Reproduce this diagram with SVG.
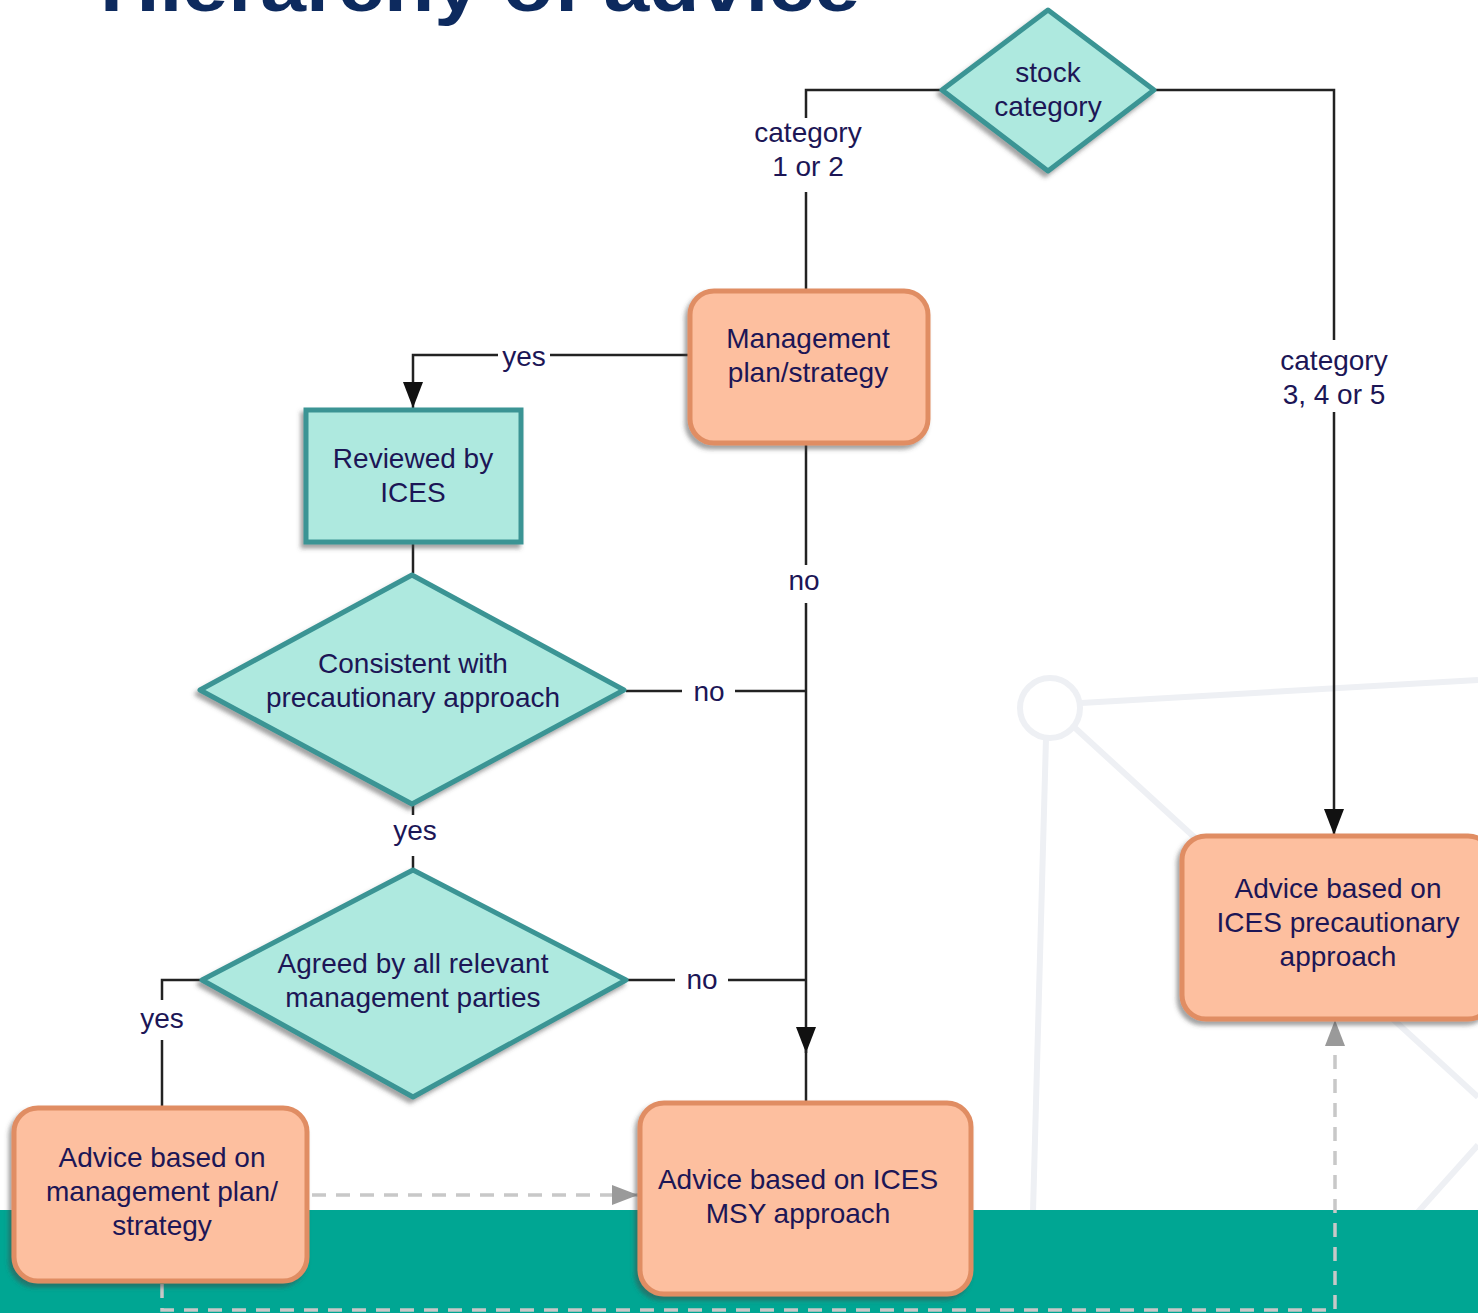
<svg xmlns="http://www.w3.org/2000/svg" width="1478" height="1313" viewBox="0 0 1478 1313">
<style>
text{font-family:"Liberation Sans",Arial,sans-serif;font-size:28px;fill:#1c1656;text-anchor:middle}
.title{font-size:72px;font-weight:bold;fill:#0d2a5e;text-anchor:start}
.bg{fill:none;stroke:#eef0f4;stroke-width:6}
.dec{fill:#aee9df;stroke:#3a9494;stroke-width:5;stroke-linejoin:round}
.box{fill:#fdbf9f;stroke:#e08d63;stroke-width:5}
.conn{fill:none;stroke:#222;stroke-width:2.5}
.dash{fill:none;stroke:#c8c8c8;stroke-width:3.5;stroke-dasharray:14 10}
</style>
<defs>
<filter id="sh" x="-10%" y="-10%" width="120%" height="125%">
<feDropShadow dx="-3" dy="4" stdDeviation="2" flood-color="#444" flood-opacity="0.5"/>
</filter>
<marker id="arr" markerUnits="userSpaceOnUse" markerWidth="26" markerHeight="20" viewBox="0 0 26 20" refX="26" refY="10" orient="auto">
<path d="M0,0 L26,10 L0,20 z" fill="#111"/>
</marker>
<marker id="garr" markerUnits="userSpaceOnUse" markerWidth="26" markerHeight="20" viewBox="0 0 26 20" refX="26" refY="10" orient="auto">
<path d="M0,0 L26,10 L0,20 z" fill="#9a9a9a"/>
</marker>
</defs>
<rect x="0" y="0" width="1478" height="1313" fill="#fff"/>
<g id="background">
<circle class="bg" cx="1050" cy="708" r="30"/>
<line class="bg" x1="1081" y1="703" x2="1478" y2="680"/>
<line class="bg" x1="1046" y1="738" x2="1033" y2="1212"/>
<line class="bg" x1="1074" y1="727" x2="1478" y2="1097"/>
<line class="bg" x1="1478" y1="1145" x2="1418" y2="1212"/>
<rect x="0" y="1210" width="1478" height="103" fill="#00a693"/>
</g>
<text class="title" x="100" y="11" textLength="760" lengthAdjust="spacingAndGlyphs">Hierarchy of advice</text>
<g id="connectors">
<path class="conn" d="M940,90 H806 V118"/>
<path class="conn" d="M806,192 V290"/>
<path class="conn" d="M1156,90 H1334 V340"/>
<path class="conn" d="M1334,412 V835" marker-end="url(#arr)"/>
<path class="conn" d="M688,355 H550"/>
<path class="conn" d="M498,355 H413 V408" marker-end="url(#arr)"/>
<path class="conn" d="M806,444 V565"/>
<path class="conn" d="M806,603 V1053" marker-end="url(#arr)"/>
<path class="conn" d="M806,1050 V1102"/>
<path class="conn" d="M626,691 H682"/>
<path class="conn" d="M735,691 H806"/>
<path class="conn" d="M413,543 V573"/>
<path class="conn" d="M413,805 V815"/>
<path class="conn" d="M413,856 V868"/>
<path class="conn" d="M628,980 H675"/>
<path class="conn" d="M728,980 H806"/>
<path class="conn" d="M200,980 H162 V1000"/>
<path class="conn" d="M162,1040 V1107"/>
<path class="dash" d="M312,1195 H638" marker-end="url(#garr)"/>
<path class="dash" d="M162,1284 V1310 H1335 V1020" marker-end="url(#garr)"/>
<text x="808" y="142">category</text>
<text x="808" y="176">1 or 2</text>
<text x="1334" y="370">category</text>
<text x="1334" y="404">3, 4 or 5</text>
<text x="524" y="366">yes</text>
<text x="804" y="590">no</text>
<text x="709" y="701">no</text>
<text x="415" y="840">yes</text>
<text x="702" y="989">no</text>
<text x="162" y="1028">yes</text>
</g>
<g id="stock-category">
<path class="dec" filter="url(#sh)" d="M1048,10 L1154,90 L1048,171 L942,90 Z"/>
<text x="1048" y="82">stock</text>
<text x="1048" y="116">category</text>
</g>
<g id="management-plan">
<rect class="box" filter="url(#sh)" x="690" y="291" width="238" height="152" rx="24"/>
<text x="808" y="348">Management</text>
<text x="808" y="382">plan/strategy</text>
</g>
<g id="reviewed-by-ices">
<rect class="dec" filter="url(#sh)" x="306" y="410" width="215" height="132" style="stroke-linejoin:miter"/>
<text x="413" y="468">Reviewed by</text>
<text x="413" y="502">ICES</text>
</g>
<g id="consistent-precautionary">
<path class="dec" filter="url(#sh)" d="M412,575 L624,690 L412,804 L200,690 Z"/>
<text x="413" y="673">Consistent with</text>
<text x="413" y="707">precautionary approach</text>
</g>
<g id="agreed-by-parties">
<path class="dec" filter="url(#sh)" d="M413,870 L626,980 L413,1097 L202,980 Z"/>
<text x="413" y="973">Agreed by all relevant</text>
<text x="413" y="1007">management parties</text>
</g>
<g id="advice-management-plan">
<rect class="box" filter="url(#sh)" x="14" y="1108" width="293" height="173" rx="24"/>
<text x="162" y="1167">Advice based on</text>
<text x="162" y="1201">management plan/</text>
<text x="162" y="1235">strategy</text>
</g>
<g id="advice-msy">
<rect class="box" filter="url(#sh)" x="640" y="1103" width="331" height="191" rx="24"/>
<text x="798" y="1189">Advice based on ICES</text>
<text x="798" y="1223">MSY approach</text>
</g>
<g id="advice-precautionary">
<rect class="box" filter="url(#sh)" x="1182" y="836" width="310" height="183" rx="24"/>
<text x="1338" y="898">Advice based on</text>
<text x="1338" y="932">ICES precautionary</text>
<text x="1338" y="966">approach</text>
</g>
</svg>
